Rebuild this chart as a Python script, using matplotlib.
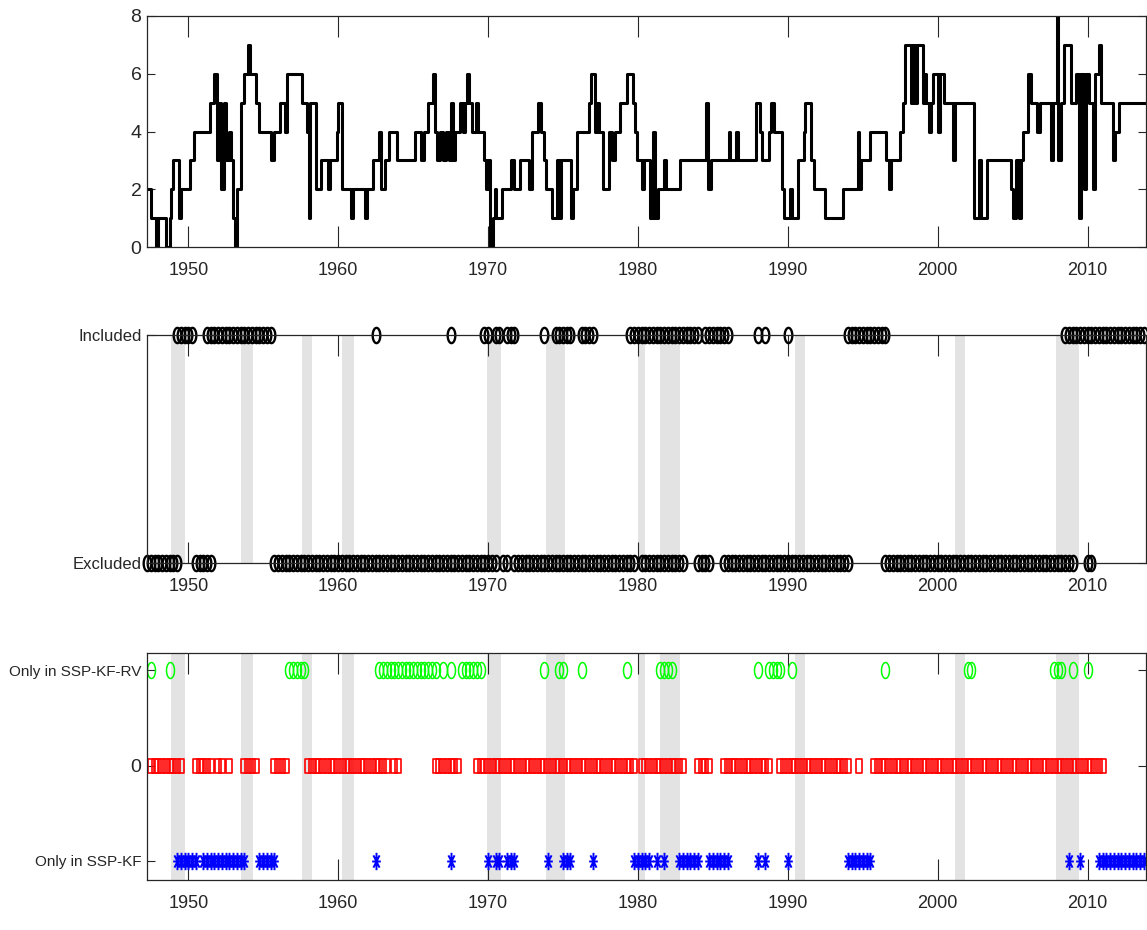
import numpy as np
import matplotlib
matplotlib.use("Agg")
import matplotlib.pyplot as plt
from matplotlib.path import Path

plt.rcParams['font.family'] = ['Liberation Sans Narrow', 'Liberation Sans', 'DejaVu Sans']

# ---- top panel: model size over time (change dates, levels) ----
top_dates = [1947.25, 1947.5, 1947.85, 1948.0, 1948.5, 1948.75, 1948.85, 1949.0, 1949.4, 1949.5,
             1950.1, 1950.35, 1951.45, 1951.75, 1951.9, 1952.05, 1952.2, 1952.4, 1952.55, 1952.7,
             1952.85, 1953.0, 1953.1, 1953.25, 1953.55, 1953.75, 1954.0, 1954.1, 1954.5, 1954.7,
             1955.55, 1955.75, 1956.15, 1956.45, 1956.6, 1957.6, 1957.9, 1958.05, 1958.15, 1958.5,
             1958.85, 1959.3, 1959.45, 1959.9, 1960.0, 1960.25, 1960.85, 1961.0, 1961.8, 1961.95,
             1962.3, 1962.7, 1962.85, 1963.15, 1963.4, 1963.9, 1965.1, 1965.55, 1965.7, 1966.0,
             1966.3, 1966.45, 1966.6, 1966.8, 1967.0, 1967.2, 1967.4, 1967.5, 1967.65, 1967.8,
             1968.1, 1968.3, 1968.45, 1968.6, 1968.75, 1968.9, 1969.2, 1969.35, 1969.7, 1969.85,
             1970.0, 1970.15, 1970.3, 1970.45, 1970.55, 1970.95, 1971.5, 1971.7, 1972.1,
             1972.75, 1972.9, 1973.3, 1973.55, 1973.7, 1973.85, 1974.25, 1974.6, 1974.75, 1974.9,
             1975.55, 1975.7, 1975.95, 1976.75, 1976.9, 1977.15, 1977.3, 1977.4, 1977.7, 1978.1,
             1978.3, 1978.45, 1978.8, 1979.25, 1979.65, 1979.8, 1979.95, 1980.25, 1980.4, 1980.8,
             1981.0, 1981.15, 1981.35, 1981.75, 1981.85, 1982.8, 1984.55, 1984.7, 1984.85, 1986.05,
             1986.15, 1986.55, 1986.7, 1987.85, 1988.15, 1988.3, 1988.75, 1988.9, 1989.1, 1989.6,
             1989.75, 1990.15, 1990.3, 1990.7, 1991.05, 1991.15, 1991.55, 1991.75, 1992.5, 1993.65,
             1994.65, 1994.75, 1994.85, 1995.45, 1996.55, 1996.75, 1996.85, 1997.5, 1997.65, 1997.8,
             1998.2, 1998.35, 1998.5, 1998.6, 1999.0, 1999.15, 1999.25, 1999.4, 1999.55, 1999.7,
             2000.05, 2000.15, 2000.45, 2001.0, 2001.15, 2002.45, 2002.75, 2002.9, 2003.3, 2004.9,
             2005.05, 2005.2, 2005.45, 2005.55, 2005.7, 2006.0, 2006.2, 2006.65, 2006.8, 2007.55,
             2007.7, 2007.95, 2008.05, 2008.25, 2008.4, 2008.9, 2009.2, 2009.45, 2009.55, 2009.75,
             2009.9, 2010.1, 2010.35, 2010.5, 2010.75, 2010.9, 2011.7, 2011.8, 2012.1, 2013.95]
top_levels = [2, 1, 0, 1, 0, 1, 2, 3, 1, 2,
              3, 4, 5, 6, 3, 5, 2, 5, 3, 4,
              3, 1, 0, 2, 5, 6, 7, 6, 5, 4,
              3, 4, 5, 4, 6, 5, 4, 1, 5, 2,
              3, 2, 3, 4, 5, 2, 1, 2, 1, 2,
              3, 4, 2, 3, 4, 3, 4, 3, 4, 5,
              6, 4, 3, 4, 3, 4, 3, 5, 3, 4,
              5, 4, 5, 6, 5, 4, 5, 4, 3, 2,
              3, 0, 1, 2, 1, 2, 3, 2, 3,
              2, 4, 5, 4, 3, 2, 1, 3, 1, 3,
              1, 2, 4, 5, 6, 4, 5, 4, 2, 4,
              3, 4, 5, 6, 5, 4, 3, 2, 3, 1,
              4, 1, 2, 3, 2, 3, 5, 2, 3, 4,
              3, 4, 3, 5, 4, 3, 4, 5, 4, 2,
              1, 2, 1, 3, 4, 5, 3, 2, 1, 2,
              4, 2, 3, 4, 3, 2, 3, 4, 5, 7,
              5, 7, 5, 7, 5, 6, 5, 4, 5, 6,
              4, 6, 5, 3, 5, 1, 3, 1, 3, 2,
              1, 3, 1, 3, 4, 6, 5, 4, 5, 3,
              5, 8, 3, 5, 7, 5, 6, 1, 6, 2,
              6, 5, 2, 6, 7, 5, 3, 4, 5, 5]

# ---- middle panel: inclusion of the predictor (quarterly runs) ----
included_ranges = [(1949.25, 1950.25), (1951.25, 1955.5), (1962.5, 1962.5), (1967.5, 1967.5),
                   (1969.75, 1970.0), (1970.5, 1970.75), (1971.25, 1971.75), (1973.75, 1973.75),
                   (1974.5, 1975.0), (1975.25, 1975.5), (1976.25, 1977.0), (1979.5, 1980.5),
                   (1980.75, 1982.5), (1982.75, 1984.0), (1984.5, 1986.0), (1988.0, 1988.0),
                   (1988.5, 1988.5), (1990.0, 1990.0), (1994.0, 1996.5), (2008.5, 2010.0),
                   (2010.25, 2013.75)]
excluded_ranges = [(1947.25, 1949.25), (1950.5, 1951.5), (1955.75, 1970.5), (1971.0, 1971.25),
                   (1971.75, 1979.75), (1980.25, 1983.0), (1984.0, 1984.75), (1985.75, 1994.0),
                   (1996.5, 2009.0), (2010.0, 2010.25)]

# ---- bottom panel: difference between the two samplers ----
only_rv_ranges = [(1947.5, 1947.5), (1948.75, 1948.75), (1956.75, 1957.75), (1962.75, 1966.5),
                  (1967.0, 1967.0), (1967.5, 1967.5), (1968.25, 1969.5), (1973.75, 1973.75),
                  (1974.75, 1975.0), (1976.25, 1976.25), (1979.25, 1979.25), (1981.5, 1982.25),
                  (1988.0, 1988.0), (1988.75, 1989.5), (1990.25, 1990.25), (1996.5, 1996.5),
                  (2002.0, 2002.25), (2007.75, 2008.25), (2009.0, 2009.0), (2010.0, 2010.0)]
same_ranges = [(1947.5, 1949.5), (1950.5, 1951.5), (1952.0, 1952.25), (1952.75, 1952.75),
               (1953.75, 1954.5), (1955.75, 1956.5), (1958.0, 1963.25), (1963.75, 1964.0),
               (1966.5, 1968.0), (1969.25, 1979.75), (1980.25, 1983.0), (1984.0, 1984.75),
               (1985.75, 1988.75), (1989.5, 1994.0), (1994.75, 1994.75), (1995.75, 2011.0)]
only_kf_ranges = [(1949.25, 1950.5), (1951.0, 1953.75), (1954.75, 1955.75), (1962.5, 1962.5),
                  (1967.5, 1967.5), (1970.0, 1970.0), (1970.5, 1970.75), (1971.25, 1971.75),
                  (1974.0, 1974.0), (1975.0, 1975.5), (1977.0, 1977.0), (1979.75, 1980.5),
                  (1980.75, 1980.75), (1981.25, 1981.25), (1981.75, 1981.75), (1982.75, 1984.0),
                  (1984.75, 1986.0), (1988.0, 1988.0), (1988.5, 1988.5), (1990.0, 1990.0),
                  (1994.0, 1995.5), (2008.75, 2008.75), (2009.5, 2009.5), (2010.75, 2013.75)]

# NBER recessions (year, month) peak -> trough
recessions = [((1948, 11), (1949, 10)), ((1953, 7), (1954, 5)), ((1957, 8), (1958, 4)),
              ((1960, 4), (1961, 2)), ((1969, 12), (1970, 11)), ((1973, 11), (1975, 3)),
              ((1980, 1), (1980, 7)), ((1981, 7), (1982, 11)), ((1990, 7), (1991, 3)),
              ((2001, 3), (2001, 11)), ((2007, 12), (2009, 6))]

xticks = [1950, 1960, 1970, 1980, 1990, 2000, 2010]
xlim = (1947.25, 2013.9)


def quarters(ranges):
    out = []
    for a, b in ranges:
        out.extend(np.arange(a, b + 0.001, 0.25))
    return np.array(out)


def ym(d):
    return d[0] + (d[1] - 1) / 12.0


# stretched marker shapes (the original figure is squashed horizontally)
t = np.linspace(0, 2 * np.pi, 41)
ellipse = Path(np.column_stack([0.5 * np.cos(t), np.sin(t)]))
rect = Path([(-0.25, -0.5), (0.25, -0.5), (0.25, 0.5), (-0.25, 0.5), (-0.25, -0.5)], closed=True)
verts, codes = [], []
for ang in [0, 45, 90, 135]:
    a = np.deg2rad(ang)
    dx, dy = 0.5 * np.cos(a), np.sin(a)
    verts += [(-dx, -dy), (dx, dy)]
    codes += [Path.MOVETO, Path.LINETO]
star = Path(verts, codes)

fig = plt.figure(figsize=(11.47, 9.30), dpi=100)
ax1 = fig.add_axes([0.1282, 0.7344, 0.871, 0.2484])
ax2 = fig.add_axes([0.1282, 0.3946, 0.871, 0.2452])
ax3 = fig.add_axes([0.1282, 0.0538, 0.871, 0.2441])

axcol = '0.15'
for ax in [ax1, ax2, ax3]:
    ax.set_xlim(*xlim)
    ax.set_xticks(xticks)
    ax.tick_params(axis='both', direction='in', top=True, right=True, colors=axcol, width=0.8)
    ax.tick_params(axis='x', length=15, pad=11, labelsize=13)
    ax.tick_params(axis='y', length=6, pad=4, labelsize=11)
    for s in ax.spines.values():
        s.set_color(axcol)
        s.set_linewidth(0.9)
    ax.set_facecolor('white')

# top
ax1.plot(top_dates, top_levels, drawstyle='steps-post', color='black', lw=2.2)
ax1.set_ylim(0, 8)
ax1.set_yticks([0, 2, 4, 6, 8])
ax1.tick_params(axis='y', labelsize=14)

# recession shading
for ax in [ax2, ax3]:
    for a, b in recessions:
        ax.axvspan(ym(a), ym(b), color='#e3e3e3', lw=0, zorder=0)

# middle
inc = quarters(included_ranges)
exc = quarters(excluded_ranges)
ax2.plot(inc, np.ones(len(inc)), ls='none', marker=ellipse, ms=11, mfc='none', mec='black', mew=1.7,
         clip_on=False)
ax2.plot(exc, np.zeros(len(exc)), ls='none', marker=ellipse, ms=11, mfc='none', mec='black', mew=1.7,
         clip_on=False)
ax2.set_ylim(0, 1)
ax2.set_yticks([0, 1])
ax2.set_yticklabels(['Excluded', 'Included'], fontsize=12)

# bottom
rv = quarters(only_rv_ranges)
same = quarters(same_ranges)
kf = quarters(only_kf_ranges)
ax3.plot(rv, np.ones(len(rv)), ls='none', marker=ellipse, ms=11.5, mfc='none', mec=(0, 1, 0), mew=1.1)
ax3.plot(same, np.zeros(len(same)), ls='none', marker=rect, ms=9.5, mfc='none', mec=(1, 0, 0), mew=1.2)
ax3.plot(kf, -np.ones(len(kf)), ls='none', marker=star, ms=12.5, mfc='none', mec=(0, 0, 1), mew=1.4)
ax3.set_ylim(-1.2, 1.18)
ax3.set_yticks([-1, 0, 1])
ax3.set_yticklabels(['Only in SSP-KF', '0', 'Only in SSP-KF-RV'])
ax3.get_yticklabels()[1].set_fontsize(14)

fig.savefig('out.png', dpi=100)
